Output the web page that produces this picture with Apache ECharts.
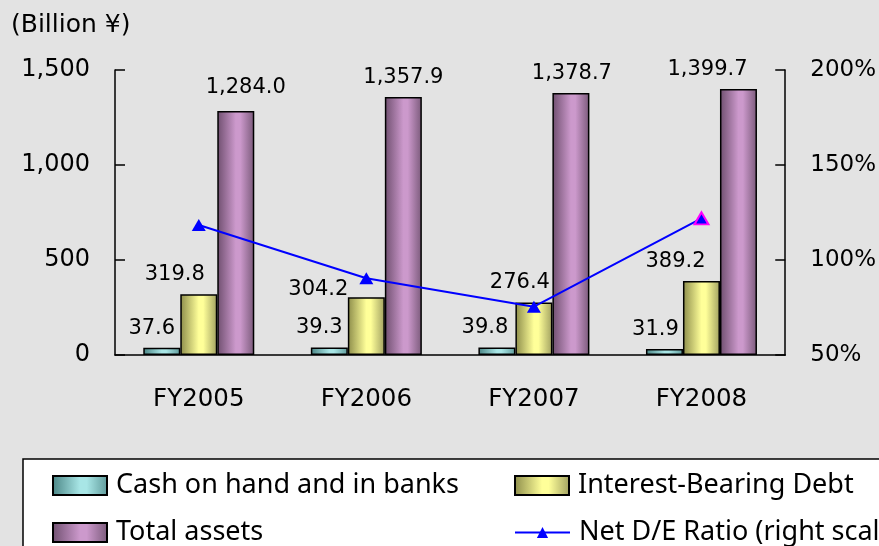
<!DOCTYPE html>
<html>
<head>
<meta charset="utf-8">
<script src="https://cdn.jsdelivr.net/npm/echarts@6/dist/echarts.min.js"></script>
<style>
  html, body { margin: 0; padding: 0; background: #e3e3e3; }
  #chart { width: 879px; height: 546px; }
</style>
</head>
<body>
<div id="chart"></div>
<script>
// Fiscal years on the category axis
const years = ['FY2005', 'FY2006', 'FY2007', 'FY2008'];

// Balance sheet figures (billion yen)
const cashInBanks = [37.6, 39.3, 39.8, 31.9];
const interestBearingDebt = [319.8, 304.2, 276.4, 389.2];
const totalAssets = [1284.0, 1357.9, 1378.7, 1399.7];

// Net D/E ratio (%), plotted on the right scale
const netDERatio = [118.4, 90.4, 75.4, 121.9];

// Series names shown in the legend
const seriesNames = ['Cash on hand and in banks', 'Interest-Bearing Debt', 'Total assets', 'Net D/E Ratio (right scale)'];

// Hand-placed nudges [dx, dy] for the value labels above each bar
const cashLabelNudge = [[-10, 0], [-10, 0], [-12, 0], [-9, 0]];
const debtLabelNudge = [[-24, 0], [-48, 12], [-14, 0], [-26, 0]];
const assetsLabelNudge = [[10, -4], [0, 0], [1, 0], [-31, 0]];

const NUM_FONT = 'DejaVu Sans';
const TEXT_FONT = 'Noto Sans';

function cylinder(dark, light, darkRight) {
  return new echarts.graphic.LinearGradient(0, 0, 1, 0, [
    { offset: 0, color: dark },
    { offset: 0.5, color: light },
    { offset: 0.62, color: light },
    { offset: 1, color: darkRight }
  ]);
}

function withNudges(values, nudges) {
  return values.map((v, i) => ({
    value: v,
    label: { offset: nudges[i] }
  }));
}

function barSeries(name, values, nudges, fill) {
  return {
    name: name,
    type: 'bar',
    yAxisIndex: 0,
    barWidth: 37,
    barGap: '0%',
    data: withNudges(values, nudges),
    itemStyle: { color: fill, borderColor: '#000', borderWidth: 1.5 },
    label: {
      show: true,
      position: 'top',
      distance: 9,
      color: '#000',
      fontFamily: NUM_FONT,
      fontSize: 21,
      formatter: p => p.value.toLocaleString('en-US', { minimumFractionDigits: 1, maximumFractionDigits: 1 })
    },
    emphasis: { disabled: true }
  };
}

const lastIdx = netDERatio.length - 1;
const ratioData = netDERatio.map((v, i) => i === lastIdx
  ? { value: v, itemStyle: { borderColor: '#ff00ff', borderWidth: 2 } }
  : v);

function legendAt(name, left, top, extra) {
  return Object.assign({
    data: [name],
    left: left,
    top: top,
    z: 10,
    padding: 0,
    itemWidth: 54,
    itemHeight: 19,
    selectedMode: false,
    icon: 'rect',
    textStyle: { color: '#000', fontFamily: TEXT_FONT, fontSize: 27, padding: [0, 0, 0, 4] }
  }, extra || {});
}

const chart = echarts.init(document.getElementById('chart'), null, { renderer: 'canvas' });

chart.setOption({
  backgroundColor: '#e3e3e3',
  animation: false,
  title: {
    text: '(Billion ¥)',
    left: 11,
    top: 13,
    padding: 0,
    textStyle: { color: '#000', fontFamily: NUM_FONT, fontSize: 25, fontWeight: 'normal' }
  },
  grid: { left: 115, right: 91, top: 70, bottom: 191 },
  xAxis: {
    type: 'category',
    data: years,
    axisLine: { lineStyle: { color: '#000', width: 1.5 } },
    axisTick: { inside: true, length: 10, lineStyle: { color: '#000', width: 1.5 } },
    axisLabel: { color: '#000', fontFamily: NUM_FONT, fontSize: 24.5, margin: 32 }
  },
  yAxis: [
    {
      type: 'value',
      min: 0,
      max: 1500,
      interval: 500,
      axisLine: { show: true, lineStyle: { color: '#000', width: 1.5 } },
      axisTick: { show: true, inside: true, length: 10, lineStyle: { color: '#000', width: 1.5 } },
      splitLine: { show: false },
      axisLabel: {
        color: '#000', fontFamily: NUM_FONT, fontSize: 24, margin: 25,
        formatter: v => v.toLocaleString('en-US')
      }
    },
    {
      type: 'value',
      min: 50,
      max: 200,
      interval: 50,
      position: 'right',
      axisLine: { show: true, lineStyle: { color: '#000', width: 1.5 } },
      axisTick: { show: true, inside: true, length: 10, lineStyle: { color: '#000', width: 1.5 } },
      splitLine: { show: false },
      axisLabel: { color: '#000', fontFamily: NUM_FONT, fontSize: 23, margin: 25, formatter: '{value}%' }
    }
  ],
  graphic: [
    {
      type: 'rect',
      z: 0,
      shape: { x: 23, y: 459, width: 900, height: 120 },
      style: { fill: '#ffffff', stroke: '#000', lineWidth: 1.5 }
    }
  ],
  legend: [
    legendAt(seriesNames[0], 52, 472),
    legendAt(seriesNames[1], 514, 472),
    legendAt(seriesNames[2], 52, 519),
    legendAt(seriesNames[3], 514, 519, { icon: null, itemWidth: 55, itemHeight: 14 })
  ],
  series: [
    barSeries(seriesNames[0], cashInBanks, cashLabelNudge, cylinder('#4a8585', '#a8e6e6', '#5f9a9a')),
    barSeries(seriesNames[1], interestBearingDebt, debtLabelNudge, cylinder('#8c8c4a', '#ffff99', '#a0a060')),
    barSeries(seriesNames[2], totalAssets, assetsLabelNudge, cylinder('#6f4f6f', '#cc99cc', '#7a5a7a')),
    {
      name: seriesNames[3],
      type: 'line',
      yAxisIndex: 1,
      data: ratioData,
      symbol: 'triangle',
      symbolSize: [14, 12],
      lineStyle: { color: '#0000ff', width: 2 },
      itemStyle: { color: '#0000ff' },
      z: 5,
      emphasis: { disabled: true }
    }
  ]
});
</script>
</body>
</html>
